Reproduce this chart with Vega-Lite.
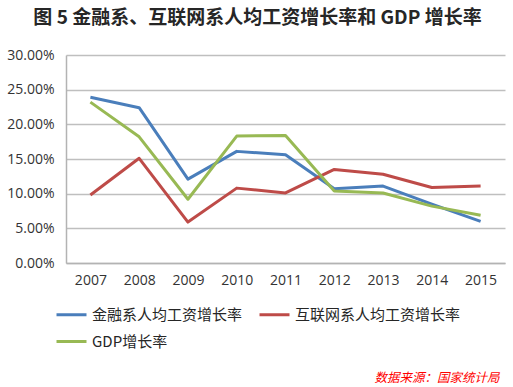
{
  "$schema": "https://vega.github.io/schema/vega-lite/v6.json",
  "width": 439,
  "height": 208,
  "autosize": "none",
  "padding": {"left": 66, "top": 55, "right": 8, "bottom": 124},
  "background": "white",
  "title": {
    "text": "图 5 金融系、互联网系人均工资增长率和 GDP 增长率",
    "font": "Noto Sans CJK SC",
    "fontSize": 19,
    "fontWeight": "bold",
    "color": "#262626",
    "anchor": "middle",
    "dx": -28,
    "offset": 20
  },
  "data": {
    "values": [
      {"year": "2007", "series": "金融系人均工资增长率", "rate": 0.239},
      {"year": "2008", "series": "金融系人均工资增长率", "rate": 0.224},
      {"year": "2009", "series": "金融系人均工资增长率", "rate": 0.121},
      {"year": "2010", "series": "金融系人均工资增长率", "rate": 0.161},
      {"year": "2011", "series": "金融系人均工资增长率", "rate": 0.156},
      {"year": "2012", "series": "金融系人均工资增长率", "rate": 0.107},
      {"year": "2013", "series": "金融系人均工资增长率", "rate": 0.111},
      {"year": "2014", "series": "金融系人均工资增长率", "rate": 0.085},
      {"year": "2015", "series": "金融系人均工资增长率", "rate": 0.060},
      {"year": "2007", "series": "互联网系人均工资增长率", "rate": 0.098},
      {"year": "2008", "series": "互联网系人均工资增长率", "rate": 0.151},
      {"year": "2009", "series": "互联网系人均工资增长率", "rate": 0.059},
      {"year": "2010", "series": "互联网系人均工资增长率", "rate": 0.108},
      {"year": "2011", "series": "互联网系人均工资增长率", "rate": 0.101},
      {"year": "2012", "series": "互联网系人均工资增长率", "rate": 0.135},
      {"year": "2013", "series": "互联网系人均工资增长率", "rate": 0.128},
      {"year": "2014", "series": "互联网系人均工资增长率", "rate": 0.109},
      {"year": "2015", "series": "互联网系人均工资增长率", "rate": 0.111},
      {"year": "2007", "series": "GDP增长率", "rate": 0.232},
      {"year": "2008", "series": "GDP增长率", "rate": 0.182},
      {"year": "2009", "series": "GDP增长率", "rate": 0.092},
      {"year": "2010", "series": "GDP增长率", "rate": 0.183},
      {"year": "2011", "series": "GDP增长率", "rate": 0.184},
      {"year": "2012", "series": "GDP增长率", "rate": 0.104},
      {"year": "2013", "series": "GDP增长率", "rate": 0.101},
      {"year": "2014", "series": "GDP增长率", "rate": 0.082},
      {"year": "2015", "series": "GDP增长率", "rate": 0.069}
    ]
  },
  "mark": {"type": "line", "strokeWidth": 3, "strokeJoin": "round"},
  "encoding": {
    "x": {
      "field": "year",
      "type": "ordinal",
      "scale": {"type": "point", "padding": 0.5},
      "axis": {
        "labelAngle": 0,
        "labelFont": "Open Sans",
        "labelFontSize": 14,
        "labelColor": "#333333",
        "labelPadding": 10,
        "ticks": false,
        "domain": true,
        "domainColor": "#b3b3b3",
        "domainWidth": 1.5,
        "grid": false,
        "title": "数据来源：国家统计局",
        "titleColor": "#ff0000",
        "titleFont": "Noto Sans CJK SC",
        "titleFontSize": 12.5,
        "titleFontStyle": "italic",
        "titleFontWeight": "normal",
        "titleAnchor": "end",
        "titleAlign": "right",
        "titleBaseline": "middle",
        "titleX": 433,
        "titleY": 114
      }
    },
    "y": {
      "field": "rate",
      "type": "quantitative",
      "scale": {"domain": [0, 0.3], "nice": false},
      "axis": {
        "format": ".2%",
        "values": [0, 0.05, 0.1, 0.15, 0.2, 0.25, 0.3],
        "labelFont": "Open Sans",
        "labelFontSize": 14,
        "labelColor": "#333333",
        "labelPadding": 12,
        "ticks": false,
        "domain": true,
        "domainColor": "#b3b3b3",
        "domainWidth": 1.5,
        "grid": true,
        "gridColor": "#bfbfbf",
        "gridWidth": 1.5,
        "title": null
      }
    },
    "color": {
      "field": "series",
      "type": "nominal",
      "sort": ["金融系人均工资增长率", "互联网系人均工资增长率", "GDP增长率"],
      "scale": {
        "domain": ["金融系人均工资增长率", "互联网系人均工资增长率", "GDP增长率"],
        "range": ["#4a7ebb", "#be4b48", "#98b954"]
      },
      "legend": {
        "orient": "none",
        "direction": "horizontal",
        "legendX": -11,
        "legendY": 243,
        "columns": 2,
        "columnPadding": 10,
        "rowPadding": 2,
        "title": null,
        "symbolType": "stroke",
        "symbolSize": 900,
        "symbolStrokeWidth": 3,
        "labelFont": "Noto Sans CJK SC",
        "labelFontSize": 15,
        "labelColor": "#262626",
        "labelOffset": 4,
        "labelLimit": 300
      }
    }
  },
  "config": {"view": {"stroke": null}}
}
